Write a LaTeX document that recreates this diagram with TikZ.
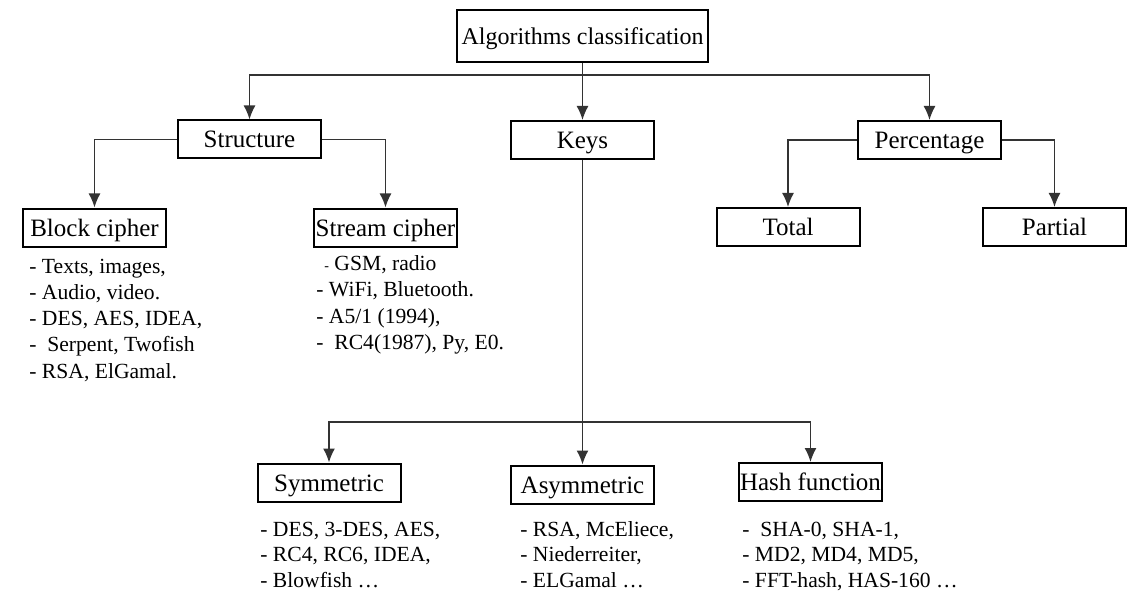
\documentclass[tikz,border=0pt]{standalone}
\usepackage{fontspec}
\setmainfont{Liberation Serif}
\usetikzlibrary{arrows.meta}
\tikzset{
  box/.style={draw,line width=1pt,minimum width=71.5pt,minimum height=19pt,inner sep=0pt,
    text height=10pt,text depth=1.5pt,font=\fontsize{12.5}{15}\selectfont},
  link/.style={line width=.75pt,draw=black!80,-{Latex[length=7pt,width=6pt]}},
  item/.style={anchor=base west,inner sep=0pt,font=\fontsize{10.8}{13}\selectfont},
}
\begin{document}
\begin{tikzpicture}[x=.5pt,y=-.5pt]
\useasboundingbox(0,0)rectangle(1138,593);
%root
\node[box,minimum width=125.5pt,minimum height=26pt,font=\fontsize{12}{14}\selectfont](algo)at(582.5,36){Algorithms classification};
%first level
\node[box](struct)at(249.5,139.5){Structure};
\node[box](keys)at(582.5,140){Keys};
\node[box](perc)at(929.5,140){Percentage};
%structure
\node[box](block)at(94.5,227.5){Block cipher};
\node[box](stream)at(385.5,227.5){Stream cipher};
%percentage
\node[box](total)at(788,227){Total};
\node[box](partial)at(1054.5,227){Partial};
%keys
\node[box](sym)at(329,482.5){Symmetric};
\node[box](asym)at(582.5,484.5){Asymmetric};
\node[box](hash)at(810.5,482){Hash function};
%connectors
\coordinate(hub)at(582.5,75);
\coordinate(khub)at(582.5,422);
\draw[link](algo)--(keys);
\draw[link](hub)-|(struct);
\draw[link](hub)-|(perc);
\draw[link](struct)-|(block);
\draw[link](struct)-|(stream);
\draw[link](perc)-|(total);
\draw[link](perc)-|(partial);
\draw[link](keys)--(asym);
\draw[link](khub)-|(sym);
\draw[link](khub)-|(hash);
%lists
\foreach \t [count=\i from 0] in {{- Texts, images,},{- Audio, video.},{- DES, AES, IDEA,},{-\ \ Serpent, Twofish},{- RSA, ElGamal.}}{
\node[item](blk\i)at(29,273+26.3*\i){\t};
}
\foreach \t [count=\i from 0] in {{\hspace{4pt}{\scriptsize -} GSM, radio},{- WiFi, Bluetooth.},{- A5/1 (1994),},{-\ \ RC4(1987), Py, E0.}}{
\node[item](str\i)at(316,270+26.6*\i){\t};
}
\foreach \t [count=\i from 0] in {{- DES, 3-DES, AES,},{- RC4, RC6, IDEA,},{- Blowfish \ldots}}{
\node[item](sym\i)at(260,536+25.5*\i){\t};
}
\foreach \t [count=\i from 0] in {{- RSA, McEliece,},{- Niederreiter,},{- ELGamal \ldots}}{
\node[item](asym\i)at(520,536+25.5*\i){\t};
}
\foreach \t [count=\i from 0] in {{-\ \ SHA-0, SHA-1,},{- MD2, MD4, MD5,},{- FFT-hash, HAS-160 \ldots}}{
\node[item](hash\i)at(742,536+25.5*\i){\t};
}
\end{tikzpicture}
\end{document}
